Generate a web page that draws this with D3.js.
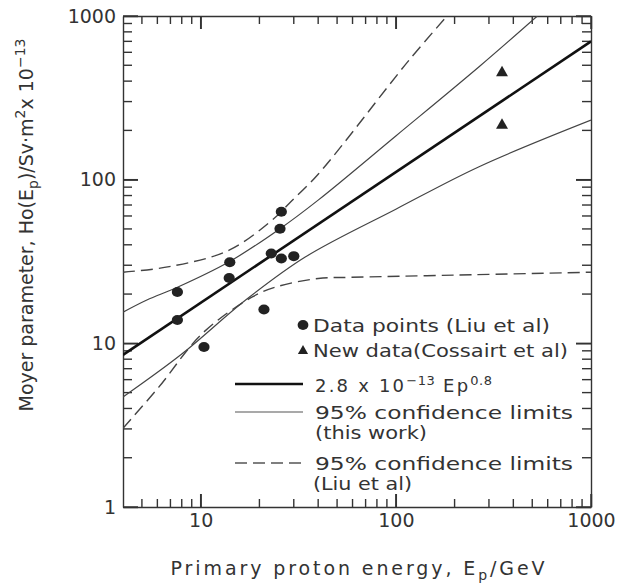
<!DOCTYPE html>
<html>
<head>
<meta charset="utf-8">
<script src="https://cdn.jsdelivr.net/npm/d3@7"></script>
<style>
  body { margin: 0; background: #fff; }
</style>
</head>
<body>
<div id="chart"></div>
<script>
// Data (units of 10^-13 Sv m^2)
const liuE = [7.6, 7.6, 10.4, 14.1, 14.0, 21.1, 23.0, 25.9, 25.5, 25.9, 30.0];
const liuH = [20.6, 13.9, 9.5, 31.3, 25.1, 16.1, 35.4, 63.6, 50.1, 33.0, 34.1];

const newE = [350, 350];
const newH = [450, 215];

// fitted line 2.8 Ep^0.8, end points
const fitE = [4, 1000];
const fitH = [8.5, 700];

// 95% confidence limits, this work
const upperE = [4, 5.3, 7.6, 14, 25.4, 40, 100, 267, 531];
const upperH = [15.5, 18.4, 22, 31.5, 50, 75, 185, 490, 1000];
const lowerE = [4, 8, 17, 34.5, 100, 267, 1000];
const lowerH = [4.7, 8.6, 18.4, 33.8, 66, 120, 231];

// 95% confidence limits, Liu et al
const liuUpE = [4, 6.9, 14, 24.3, 28.4, 40, 117, 183];
const liuUpH = [27.2, 29.4, 37.1, 59.3, 71.6, 108, 538, 1000];
const liuLoE = [4, 6.1, 10.2, 18.4, 24.3, 40, 57.5, 200, 1000];
const liuLoH = [3.03, 5.4, 11.5, 19.2, 22.1, 24.9, 25.3, 26.1, 27.2];

const xMajor = [10, 100, 1000];
const xMinor = [5, 6, 7, 8, 9, 20, 30, 40, 50, 60, 70, 80, 90, 200, 300, 400, 500, 600, 700, 800, 900];
const yMajor = [1, 10, 100, 1000];
const yMinor = [2, 3, 4, 5, 6, 7, 8, 9, 20, 30, 40, 50, 60, 70, 80, 90, 200, 300, 400, 500, 600, 700, 800, 900];

const width = 619, height = 586;
const pLeft = 123, pRight = 591, pTop = 16, pBottom = 507;
const font = "DejaVu Sans, sans-serif";
const ink = "#333";

const x = d3.scaleLog().domain([4, 1000]).range([pLeft, pRight]);
const y = d3.scaleLog().domain([1, 1000]).range([pBottom, pTop]);

const svg = d3.select("#chart").append("svg")
    .attr("width", width)
    .attr("height", height)
    .style("background", "#fff");

svg.append("clipPath").attr("id", "plot")
  .append("rect")
    .attr("x", pLeft).attr("y", pTop)
    .attr("width", pRight - pLeft).attr("height", pBottom - pTop);

// axes: frame and labels from d3 axes
function styleAxis(g) {
  g.selectAll("path, line").attr("stroke", ink).attr("stroke-width", 1.4);
  g.selectAll("text").attr("font-size", 19).attr("fill", ink).attr("font-family", font);
}

function drawSide(make, pos, ticks, size, labels) {
  const ax = make.tickValues(ticks).tickSizeInner(-size).tickSizeOuter(0)
      .tickPadding(labels ? 7 : 0)
      .tickFormat(labels ? d3.format("d") : "");
  svg.append("g").attr("transform", pos).call(ax).call(styleAxis);
}

drawSide(d3.axisBottom(x), `translate(0,${pBottom})`, xMajor, 13, true);
drawSide(d3.axisTop(x), `translate(0,${pTop})`, xMajor, 13, false);
drawSide(d3.axisLeft(y), `translate(${pLeft},0)`, yMajor, 15, true);
drawSide(d3.axisRight(y), `translate(${pRight},0)`, yMajor, 15, false);

// inward tick marks on all four sides (major long, minor short)
const tickG = svg.append("g").attr("stroke", ink).attr("stroke-width", 1.4);
const xTicks = xMajor.map(v => [v, 13]).concat(xMinor.map(v => [v, 8]));
const yTicks = yMajor.map(v => [v, 15]).concat(yMinor.map(v => [v, 9]));

[[pBottom, -1], [pTop, 1]].forEach(([py, dir]) => {
  tickG.selectAll(null)
    .data(xTicks)
    .enter().append("line")
      .attr("x1", d => x(d[0])).attr("x2", d => x(d[0]))
      .attr("y1", py).attr("y2", d => py + dir * d[1]);
});
[[pLeft, 1], [pRight, -1]].forEach(([px, dir]) => {
  tickG.selectAll(null)
    .data(yTicks)
    .enter().append("line")
      .attr("y1", d => y(d[0])).attr("y2", d => y(d[0]))
      .attr("x1", px).attr("x2", d => px + dir * d[1]);
});

// curves
const line = d3.line()
    .x(d => x(d[0]))
    .y(d => y(d[1]))
    .curve(d3.curveCatmullRom);

const curves = [
  { e: fitE, h: fitH, w: 2.6, c: "#111", dash: null },
  { e: upperE, h: upperH, w: 1.2, c: "#444", dash: null },
  { e: lowerE, h: lowerH, w: 1.2, c: "#444", dash: null },
  { e: liuUpE, h: liuUpH, w: 1.4, c: "#444", dash: "12,6" },
  { e: liuLoE, h: liuLoH, w: 1.4, c: "#444", dash: "12,6" }
];

const plot = svg.append("g").attr("clip-path", "url(#plot)");

plot.selectAll(".curve")
  .data(curves)
  .enter().append("path")
    .attr("class", "curve")
    .attr("d", d => line(d.e.map((v, i) => [v, d.h[i]])))
    .attr("fill", "none")
    .attr("stroke", d => d.c)
    .attr("stroke-width", d => d.w)
    .attr("stroke-dasharray", d => d.dash);

// data points
plot.selectAll(".liu")
  .data(liuE.map((v, i) => [v, liuH[i]]))
  .enter().append("ellipse")
    .attr("cx", d => x(d[0]))
    .attr("cy", d => y(d[1]))
    .attr("rx", 5.6)
    .attr("ry", 5)
    .attr("fill", "#222");

plot.selectAll(".new")
  .data(newE.map((v, i) => [v, newH[i]]))
  .enter().append("path")
    .attr("transform", d => `translate(${x(d[0])},${y(d[1])})`)
    .attr("d", d3.symbol(d3.symbolTriangle, 62))
    .attr("fill", "#222");

// legend
const lg = svg.append("g").attr("font-family", font).attr("fill", ink).attr("font-size", 18);

function label(px, py, str, len) {
  return lg.append("text").attr("x", px).attr("y", py)
      .attr("textLength", len).attr("lengthAdjust", "spacingAndGlyphs")
      .text(str);
}

lg.append("ellipse").attr("cx", 303).attr("cy", 325).attr("rx", 5.4).attr("ry", 4.9).attr("fill", "#222");
label(313, 332, "Data points (Liu et al)", 237);

lg.append("path").attr("transform", "translate(303,351)")
    .attr("d", d3.symbol(d3.symbolTriangle, 45)).attr("fill", "#222");
label(313, 357, "New data(Cossairt et al)", 255);

lg.append("line").attr("x1", 235).attr("x2", 303).attr("y1", 384).attr("y2", 384)
    .attr("stroke", "#111").attr("stroke-width", 2.6);
const t1 = lg.append("text").attr("x", 315).attr("y", 392).attr("letter-spacing", 2.2);
t1.append("tspan").text("2.8 x 10");
t1.append("tspan").attr("dy", -7).attr("font-size", 13).attr("letter-spacing", 0.5).text("\u221213");
t1.append("tspan").attr("dy", 7).text(" Ep");
t1.append("tspan").attr("dy", -7).attr("font-size", 13).attr("letter-spacing", 0.5).text("0.8");

lg.append("line").attr("x1", 235).attr("x2", 303).attr("y1", 412).attr("y2", 412)
    .attr("stroke", "#555").attr("stroke-width", 1.2);
label(315, 419, "95% confidence limits", 258);
label(315, 439, "(this work)", 112);

lg.append("line").attr("x1", 235).attr("x2", 303).attr("y1", 463).attr("y2", 463)
    .attr("stroke", "#555").attr("stroke-width", 1.4).attr("stroke-dasharray", "12,6");
label(315, 470, "95% confidence limits", 258);
label(313, 490, "(Liu et al)", 99);

// axis titles
const xt = svg.append("text").attr("x", 359).attr("y", 575)
    .attr("text-anchor", "middle").attr("font-size", 19)
    .attr("font-family", font).attr("fill", ink).attr("letter-spacing", 2.9);
xt.append("tspan").text("Primary proton energy, E");
xt.append("tspan").attr("dy", 5).attr("font-size", 14).text("p");
xt.append("tspan").attr("dy", -5).text("/GeV");

const yt = svg.append("text")
    .attr("transform", "translate(33,225) rotate(-90)")
    .attr("text-anchor", "middle").attr("font-size", 19)
    .attr("font-family", font).attr("fill", ink);
yt.append("tspan").text("Moyer parameter, Ho(E");
yt.append("tspan").attr("dy", 5).attr("font-size", 14).text("p");
yt.append("tspan").attr("dy", -5).text(")/Sv\u00b7m");
yt.append("tspan").attr("dy", -8).attr("font-size", 14).text("2");
yt.append("tspan").attr("dy", 8).text("x 10");
yt.append("tspan").attr("dy", -8).attr("font-size", 14).text("\u221213");
</script>
</body>
</html>
